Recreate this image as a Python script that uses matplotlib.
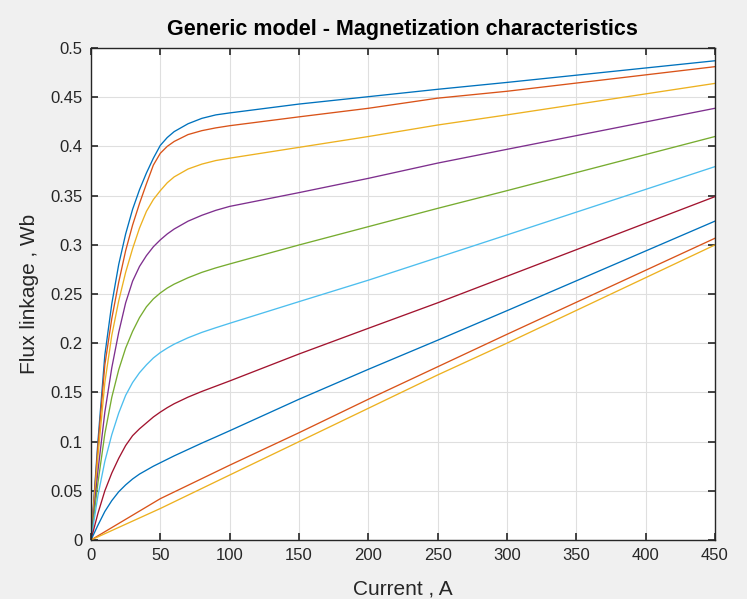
import numpy as np
import matplotlib
matplotlib.use("Agg")
import matplotlib.pyplot as plt

plt.rcParams['font.family'] = ['Liberation Sans', 'DejaVu Sans']

# current samples (A) used for the knee region
i_knee = [0, 5, 10, 15, 20, 25, 30, 35, 40, 45, 50, 55, 60, 70, 80, 90, 100, 150, 200, 250, 300, 450]

flux_1 = [0, 0.100, 0.188, 0.240, 0.280, 0.311, 0.336, 0.356, 0.373, 0.388, 0.401, 0.409, 0.415, 0.423, 0.4285, 0.432, 0.434, 0.443, 0.4505, 0.458, 0.465, 0.487]
flux_2 = [0, 0.095, 0.178, 0.225, 0.262, 0.294, 0.320, 0.342, 0.362, 0.381, 0.393, 0.400, 0.405, 0.412, 0.416, 0.4188, 0.421, 0.430, 0.4387, 0.449, 0.456, 0.481]
flux_3 = [0, 0.085, 0.160, 0.208, 0.243, 0.272, 0.296, 0.317, 0.334, 0.346, 0.355, 0.363, 0.369, 0.377, 0.382, 0.3856, 0.388, 0.399, 0.410, 0.4217, 0.432, 0.464]
flux_4 = [0, 0.070, 0.130, 0.175, 0.211, 0.241, 0.263, 0.278, 0.289, 0.298, 0.305, 0.311, 0.316, 0.324, 0.330, 0.335, 0.339, 0.353, 0.3675, 0.383, 0.397, 0.4387]
flux_5 = [0, 0.058, 0.108, 0.145, 0.173, 0.195, 0.212, 0.226, 0.237, 0.245, 0.251, 0.256, 0.260, 0.2665, 0.272, 0.2765, 0.2805, 0.2998, 0.3184, 0.337, 0.355, 0.410]
flux_6 = [0, 0.045, 0.080, 0.107, 0.129, 0.147, 0.160, 0.170, 0.178, 0.185, 0.1905, 0.195, 0.199, 0.2055, 0.211, 0.2157, 0.2202, 0.2422, 0.264, 0.287, 0.310, 0.3794]
flux_7 = [0, 0.027, 0.050, 0.068, 0.083, 0.096, 0.106, 0.113, 0.119, 0.125, 0.130, 0.1345, 0.1385, 0.1452, 0.151, 0.1563, 0.1616, 0.189, 0.2151, 0.241, 0.268, 0.3489]
flux_8 = [0, 0.015, 0.029, 0.040, 0.049, 0.056, 0.062, 0.067, 0.071, 0.075, 0.0785, 0.082, 0.0855, 0.092, 0.0985, 0.1047, 0.111, 0.143, 0.1734, 0.203, 0.233, 0.324]

# two nearly straight curves at the bottom
i_lin = [0, 25, 50, 100, 150, 200, 250, 300, 450]
flux_9 = [0, 0.021, 0.042, 0.076, 0.109, 0.143, 0.176, 0.209, 0.3066]
flux_10 = [0, 0.016, 0.032, 0.066, 0.0999, 0.1338, 0.1677, 0.200, 0.2998]

curves = [(i_knee, flux_1), (i_knee, flux_2), (i_knee, flux_3), (i_knee, flux_4),
          (i_knee, flux_5), (i_knee, flux_6), (i_knee, flux_7), (i_knee, flux_8),
          (i_lin, flux_9), (i_lin, flux_10)]

# MATLAB default colour order
colors = ['#0072BD', '#D95319', '#EDB120', '#7E2F8E', '#77AC30',
          '#4DBEEE', '#A2142F', '#0072BD', '#D95319', '#EDB120']

x_ticks = [0, 50, 100, 150, 200, 250, 300, 350, 400, 450]
y_ticks = [0, 0.05, 0.1, 0.15, 0.2, 0.25, 0.3, 0.35, 0.4, 0.45, 0.5]
y_labels = ['0', '0.05', '0.1', '0.15', '0.2', '0.25', '0.3', '0.35', '0.4', '0.45', '0.5']

fig = plt.figure(figsize=(7.47, 5.99), dpi=100, facecolor='#F0F0F0')
ax = fig.add_axes([0.1218, 0.0985, 0.8352, 0.8214])

for (cur, flux), c in zip(curves, colors):
    ax.plot(cur, flux, color=c, linewidth=0.95)

ax.set_xlim(0, 450)
ax.set_ylim(0, 0.5)
ax.set_xticks(x_ticks)
ax.set_yticks(y_ticks)
ax.set_xticklabels([str(v) for v in x_ticks])
ax.set_yticklabels(y_labels)
ax.grid(True, color='#DFDFDF', linewidth=0.8)
ax.set_axisbelow(True)
ax.tick_params(direction='in', top=True, right=True, length=5, width=1.2,
               labelsize=12, colors='#262626', pad=6)
for s in ax.spines.values():
    s.set_color('#262626')
    s.set_linewidth(1.0)

ax.set_title('Generic model - Magnetization characteristics', fontsize=15.5,
             fontweight='bold', pad=9)
ax.set_xlabel('Current , A', fontsize=15, color='#262626', labelpad=12)
ax.set_ylabel('Flux linkage , Wb', fontsize=15, color='#262626', labelpad=8)

fig.savefig('out.png', dpi=100, facecolor=fig.get_facecolor())
